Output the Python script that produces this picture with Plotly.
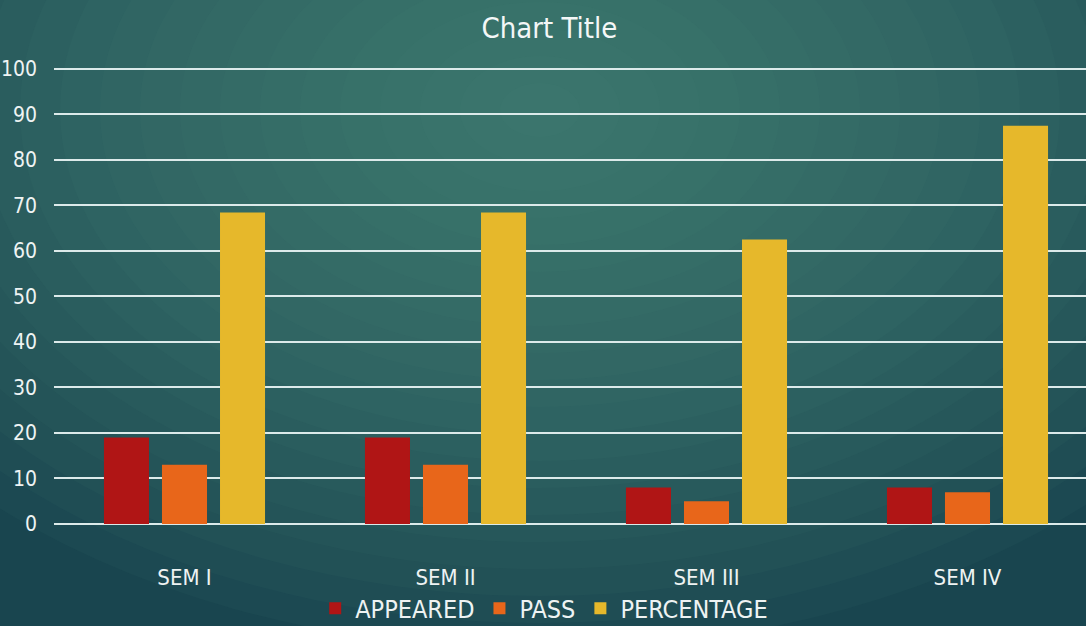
import plotly.graph_objects as go

categories = ["SEM I", "SEM II", "SEM III", "SEM IV"]
appeared = [19, 19, 8, 8]
passed = [13, 13, 5, 7]
percentage = [68.42, 68.42, 62.5, 87.5]
y_ticks = list(range(0, 101, 10))

FONT = "DejaVu Sans Condensed, DejaVu Sans, sans-serif"
W, H = 1086, 626
L, R, T, B = 54, 0, 67, 102


def px_to_paper(cx, cy, rx, ry):
    # convert a pixel ellipse into paper coords of the plot area
    pw, ph = W - L - R, H - T - B
    return dict(
        x0=(cx - rx - L) / pw, x1=(cx + rx - L) / pw,
        y0=(H - B - (cy + ry)) / ph, y1=(H - B - (cy - ry)) / ph,
    )


fig = go.Figure()

fig.add_trace(go.Bar(x=categories, y=appeared, name="APPEARED",
                     marker=dict(color="#b01515", line_width=0)))
fig.add_trace(go.Bar(x=categories, y=passed, name="PASS",
                     marker=dict(color="#e8661a", line_width=0)))
fig.add_trace(go.Bar(x=categories, y=percentage, name="PERCENTAGE",
                     marker=dict(color="#e6b82b", line_width=0)))

# soft radial glow for the teal background
shapes = []
n = 20
for i in range(n):
    f = 1 - i / n
    shapes.append(dict(
        type="circle", xref="paper", yref="paper", layer="below",
        fillcolor="#4f9282", opacity=0.063, line_width=0,
        **px_to_paper(540, 110, 800 * f, 540 * f),
    ))

# plot runs a little past the right edge, as in the original
cat_px = 261
x_range = [-0.5, -0.5 + (W - L - R) / cat_px]

fig.update_layout(
    width=W, height=H,
    margin=dict(l=L, r=R, t=T, b=B, autoexpand=False),
    paper_bgcolor="#19454f",
    plot_bgcolor="rgba(0,0,0,0)",
    shapes=shapes,
    barmode="group",
    bargap=0.333,
    bargroupgap=0.224,
    font=dict(family=FONT, color="#eef3f3"),
    title=dict(text="Chart Title", x=0.506, xref="container", xanchor="center",
               y=0.955, yref="container", yanchor="middle",
               font=dict(size=29, color="#f4f7f7", family=FONT)),
    xaxis=dict(range=x_range, showgrid=False, showline=False, zeroline=False,
               ticks="", ticklabelstandoff=38, automargin=False,
               tickfont=dict(size=22, color="#eef3f3")),
    yaxis=dict(range=[0, 100.4], tickvals=y_ticks, showgrid=True,
               gridcolor="#dceaea", gridwidth=2, zeroline=True,
               zerolinecolor="#dceaea", zerolinewidth=2,
               ticks="", ticklabelstandoff=16, automargin=False,
               tickfont=dict(size=21, color="#eef3f3")),
    legend=dict(orientation="h", x=0.475, xanchor="center", y=-0.185,
                yanchor="middle", font=dict(size=25, color="#eef3f3"),
                bgcolor="rgba(0,0,0,0)", itemwidth=30, tracegroupgap=0),
    showlegend=True,
)

fig.write_html("out.html", config={"displayModeBar": False},
               post_script="document.body.style.margin='0';")
